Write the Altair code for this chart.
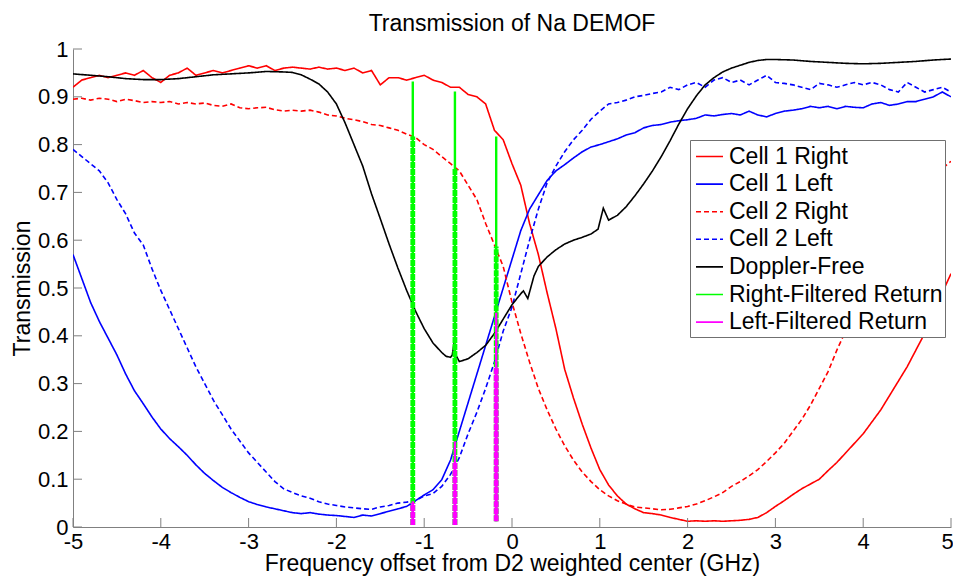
import altair as alt
import pandas as pd

FONT = "Liberation Sans"

# ---------------- data ----------------
freq = [round(-5 + 0.1 * i, 1) for i in range(101)]

cell1_right = [
    0.92, 0.935, 0.94, 0.945, 0.94, 0.945, 0.95, 0.945, 0.955, 0.94,
    0.93, 0.945, 0.95, 0.96, 0.945, 0.95, 0.955, 0.95, 0.955, 0.96,
    0.965, 0.96, 0.965, 0.955, 0.96, 0.962, 0.96, 0.958, 0.962, 0.958,
    0.96, 0.955, 0.96, 0.95, 0.955, 0.925, 0.94, 0.94, 0.935, 0.94,
    0.945, 0.935, 0.93, 0.92, 0.92, 0.905, 0.9, 0.885, 0.83, 0.81,
    0.76, 0.715, 0.635, 0.57, 0.49, 0.415, 0.33, 0.27, 0.215, 0.165,
    0.12, 0.088, 0.065, 0.048, 0.038, 0.03, 0.028, 0.025, 0.02, 0.016,
    0.012, 0.013, 0.012, 0.013, 0.012, 0.013, 0.014, 0.016, 0.02, 0.03,
    0.043, 0.055, 0.068, 0.08, 0.09, 0.1, 0.118, 0.135, 0.155, 0.175,
    0.195, 0.22, 0.245, 0.275, 0.305, 0.335, 0.37, 0.405, 0.445, 0.49,
    0.53,
]

cell1_left = [
    0.57, 0.52, 0.47, 0.43, 0.395, 0.36, 0.32, 0.285, 0.258, 0.23,
    0.205, 0.185, 0.168, 0.15, 0.13, 0.112, 0.097, 0.083, 0.072, 0.062,
    0.053, 0.047, 0.042, 0.038, 0.034, 0.03, 0.028, 0.03, 0.027, 0.025,
    0.024, 0.022, 0.02, 0.025, 0.023, 0.028, 0.033, 0.038, 0.043, 0.055,
    0.067, 0.078, 0.099, 0.14, 0.2, 0.26, 0.32, 0.38, 0.44, 0.5,
    0.56, 0.62, 0.665, 0.695, 0.725, 0.745, 0.758, 0.772, 0.785, 0.795,
    0.8, 0.806, 0.812, 0.82, 0.825, 0.835, 0.84, 0.842, 0.847, 0.85,
    0.852, 0.855, 0.862, 0.86, 0.863, 0.865, 0.862, 0.87, 0.862, 0.858,
    0.865, 0.87, 0.872, 0.875, 0.88, 0.877, 0.88, 0.875, 0.88, 0.878,
    0.877, 0.885, 0.888, 0.882, 0.885, 0.89, 0.89, 0.895, 0.9, 0.91,
    0.9,
]

cell2_right = [
    0.895, 0.897, 0.893, 0.897, 0.895, 0.89, 0.895, 0.892, 0.888, 0.89,
    0.888, 0.89, 0.885, 0.888, 0.885, 0.887, 0.882, 0.88, 0.885, 0.877,
    0.875, 0.877, 0.878, 0.873, 0.87, 0.872, 0.87, 0.872, 0.868, 0.862,
    0.86, 0.855, 0.852, 0.848, 0.842, 0.84, 0.835, 0.83, 0.822, 0.815,
    0.8, 0.79, 0.775, 0.76, 0.745, 0.715, 0.685, 0.635, 0.59, 0.545,
    0.47, 0.405, 0.345, 0.29, 0.245, 0.205, 0.17, 0.14, 0.115, 0.095,
    0.078, 0.065, 0.055, 0.048, 0.042, 0.04, 0.038, 0.036, 0.037, 0.04,
    0.043, 0.048, 0.055, 0.063, 0.072, 0.085, 0.095, 0.107, 0.12, 0.137,
    0.155, 0.175, 0.2, 0.225, 0.255, 0.29, 0.325, 0.37, 0.41, 0.45,
    0.49, 0.525, 0.56, 0.595, 0.63, 0.66, 0.69, 0.715, 0.735, 0.75,
    0.765,
]

cell2_left = [
    0.79, 0.775, 0.76, 0.745, 0.72, 0.685, 0.655, 0.615, 0.59, 0.54,
    0.495, 0.455, 0.415, 0.375, 0.335, 0.3, 0.265, 0.235, 0.205, 0.18,
    0.155, 0.135, 0.115, 0.095, 0.08, 0.072, 0.065, 0.06, 0.053, 0.048,
    0.045, 0.042, 0.04, 0.038, 0.037, 0.042, 0.045, 0.05, 0.052, 0.055,
    0.065, 0.07, 0.085, 0.11, 0.145, 0.195, 0.24, 0.29, 0.345, 0.41,
    0.46, 0.53, 0.6, 0.665, 0.72, 0.755, 0.785, 0.81, 0.83, 0.853,
    0.87, 0.885, 0.888, 0.893, 0.9, 0.903, 0.907, 0.91, 0.92, 0.915,
    0.925, 0.93, 0.92, 0.935, 0.94, 0.93, 0.935, 0.925, 0.935, 0.945,
    0.93, 0.928, 0.925, 0.92, 0.915, 0.928, 0.925, 0.92, 0.925, 0.93,
    0.925, 0.93, 0.925, 0.915, 0.91, 0.93, 0.92, 0.91, 0.915, 0.92,
    0.91,
]

doppler_x = [
    -5.0, -4.8, -4.6, -4.4, -4.2, -4.0, -3.8, -3.6, -3.4, -3.2, -3.0,
    -2.8, -2.6, -2.5, -2.4, -2.3, -2.2, -2.1, -2.0, -1.9, -1.8, -1.7,
    -1.6, -1.5, -1.4, -1.3, -1.2, -1.1, -1.0, -0.9, -0.8, -0.75, -0.7,
    -0.68, -0.66, -0.64, -0.6, -0.5, -0.4, -0.3, -0.2, -0.1, 0.0, 0.1,
    0.13, 0.18, 0.25, 0.3, 0.4, 0.5, 0.6, 0.7, 0.8, 0.9, 0.98, 1.04,
    1.1, 1.2, 1.3, 1.4, 1.5, 1.6, 1.7, 1.8, 1.9, 2.0, 2.1, 2.2, 2.3,
    2.4, 2.5, 2.6, 2.7, 2.8, 2.9, 3.0, 3.2, 3.4, 3.6, 3.8, 4.0, 4.2,
    4.4, 4.6, 4.8, 5.0,
]
doppler_free = [
    0.948, 0.945, 0.942, 0.938, 0.936, 0.936, 0.938, 0.942, 0.946, 0.948, 0.95,
    0.953, 0.952, 0.951, 0.946, 0.937, 0.927, 0.91, 0.885, 0.845, 0.8, 0.755,
    0.697, 0.645, 0.592, 0.542, 0.495, 0.452, 0.415, 0.385, 0.365, 0.357, 0.355,
    0.36, 0.385, 0.36, 0.346, 0.352, 0.365, 0.38, 0.405, 0.435, 0.465, 0.488,
    0.494, 0.478, 0.525, 0.545, 0.565, 0.58, 0.592, 0.6, 0.606, 0.613, 0.623, 0.667,
    0.642, 0.652, 0.67, 0.693, 0.718, 0.745, 0.775, 0.808, 0.843, 0.875, 0.902, 0.925, 0.94,
    0.952, 0.96, 0.966, 0.972, 0.976, 0.978, 0.978, 0.977, 0.974, 0.972, 0.97, 0.969, 0.97,
    0.972, 0.974, 0.977, 0.979,
]

# filtered-return bars
bar_x = [-1.13, -0.65, -0.18]
bar_base = [0.004, 0.004, 0.012]
right_thin_top = [0.932, 0.911, 0.817]
right_thick_top = [0.817, 0.751, 0.587]
left_thin_top = [0.054, 0.179, 0.448]
left_thick_top = [0.05, 0.134, 0.333]

x_ticks = [-5, -4, -3, -2, -1, 0, 1, 2, 3, 4, 5]
y_ticks = [0, 0.1, 0.2, 0.3, 0.4, 0.5, 0.6, 0.7, 0.8, 0.9, 1]

series_names = ["Cell 1 Right", "Cell 1 Left", "Cell 2 Right", "Cell 2 Left",
                "Doppler-Free", "Right-Filtered Return", "Left-Filtered Return"]
series_colors = ["#ff0000", "#0000ff", "#ff0000", "#0000ff", "#000000", "#00ff00", "#ff00ff"]
series_dash = [[1, 0], [1, 0], [5, 3], [5, 3], [1, 0], [1, 0], [1, 0]]

# ---------------- tables ----------------
rows = []
for name, ys in [("Cell 1 Right", cell1_right), ("Cell 1 Left", cell1_left),
                 ("Cell 2 Right", cell2_right), ("Cell 2 Left", cell2_left)]:
    for i, (xv, yv) in enumerate(zip(freq, ys)):
        rows.append({"series": name, "x": xv, "y": yv, "i": i})
for i, (xv, yv) in enumerate(zip(doppler_x, doppler_free)):
    rows.append({"series": "Doppler-Free", "x": xv, "y": yv, "i": i})
lines_df = pd.DataFrame(rows)


def bars(name, tops):
    return pd.DataFrame({"series": name, "x": bar_x, "y0": bar_base, "y1": tops})


# ---------------- encodings ----------------
xscale = alt.Scale(domain=[-5, 5], nice=False, zero=False)
yscale = alt.Scale(domain=[0, 1], nice=False, zero=False)

xaxis = alt.Axis(values=x_ticks, labelExpr="'' + datum.value",
                 title="Frequency offset from D2 weighted center (GHz)",
                 ticks=False, tickSize=0, grid=False, labelFlush=False,
                 labelOverlap=False, labelPadding=4, titlePadding=0,
                 labelOffset={"condition": {"test": "datum.value == 5", "value": -4}, "value": 0})
yaxis = alt.Axis(values=y_ticks, labelExpr="'' + datum.value", title="Transmission",
                 ticks=False, tickSize=0, grid=False, labelFlush=False,
                 labelOverlap=False, labelPadding=5, titlePadding=3)

color_enc = alt.Color("series:N",
                      scale=alt.Scale(domain=series_names, range=series_colors),
                      legend=alt.Legend(title=None))
dash_enc = alt.StrokeDash("series:N",
                          scale=alt.Scale(domain=series_names, range=series_dash),
                          legend=alt.Legend(title=None))

X = alt.X("x:Q", scale=xscale, axis=xaxis)
Y = alt.Y("y:Q", scale=yscale, axis=yaxis)

lines = alt.Chart(lines_df).mark_line(strokeWidth=1.6, clip=True).encode(
    x=X, y=Y, color=color_enc, strokeDash=dash_enc, order="i:Q"
)


def rule_layer(df, width, dash):
    return alt.Chart(df).mark_rule(strokeWidth=width, strokeDash=dash, strokeCap="butt").encode(
        x=alt.X("x:Q", scale=xscale),
        y=alt.Y("y0:Q", scale=yscale),
        y2="y1:Q",
        color=color_enc,
    )


g_thin = rule_layer(bars("Right-Filtered Return", right_thin_top), 2.4, [1, 0])
g_thick = rule_layer(bars("Right-Filtered Return", right_thick_top), 4.8, [6, 1])
m_thin = rule_layer(bars("Left-Filtered Return", left_thin_top), 2.4, [1, 0])
m_thick = rule_layer(bars("Left-Filtered Return", left_thick_top), 4.8, [6, 1])

# inward tick marks
tick_len_y = 9 / 478
tick_len_x = 9 / 87.8
xt_df = pd.DataFrame({"x": x_ticks, "y0": 0.0, "y1": tick_len_y})
yt_df = pd.DataFrame({"y": y_ticks, "x0": -5.0, "x1": -5.0 + tick_len_x})
xt = alt.Chart(xt_df).mark_rule(color="#808080", strokeWidth=1).encode(
    x=alt.X("x:Q", scale=xscale), y=alt.Y("y0:Q", scale=yscale), y2="y1:Q")
yt = alt.Chart(yt_df).mark_rule(color="#808080", strokeWidth=1).encode(
    y=alt.Y("y:Q", scale=yscale), x=alt.X("x0:Q", scale=xscale), x2="x1:Q")

chart = alt.layer(lines, g_thin, g_thick, m_thin, m_thick, xt, yt).properties(
    width=878, height=478,
    autosize=alt.AutoSizeParams(type="none"),
    padding={"left": 65, "top": 41, "right": 2, "bottom": 52},
    title=alt.TitleParams("Transmission of Na DEMOF", fontSize=23, font=FONT,
                          fontWeight="normal", anchor="middle", frame="group",
                          offset=2, color="black"),
    background="white",
).configure_view(stroke=None).configure_axis(
    domainColor="#808080", domainWidth=1,
    labelFont=FONT, labelFontSize=22, labelColor="black",
    titleFont=FONT, titleFontSize=23, titleFontWeight="normal", titleColor="black",
).configure_legend(
    orient="none", legendX=617, legendY=91,
    fillColor="white", strokeColor="#707070", padding=2, symbolOffset=3,
    symbolType="stroke", symbolSize=729, symbolStrokeWidth=1.6,
    labelFont=FONT, labelFontSize=23, labelColor="black", labelOffset=5,
    labelLimit=400, rowPadding=0.6,
)

chart.save("out.html", embed_options={"renderer": "svg", "actions": False})
